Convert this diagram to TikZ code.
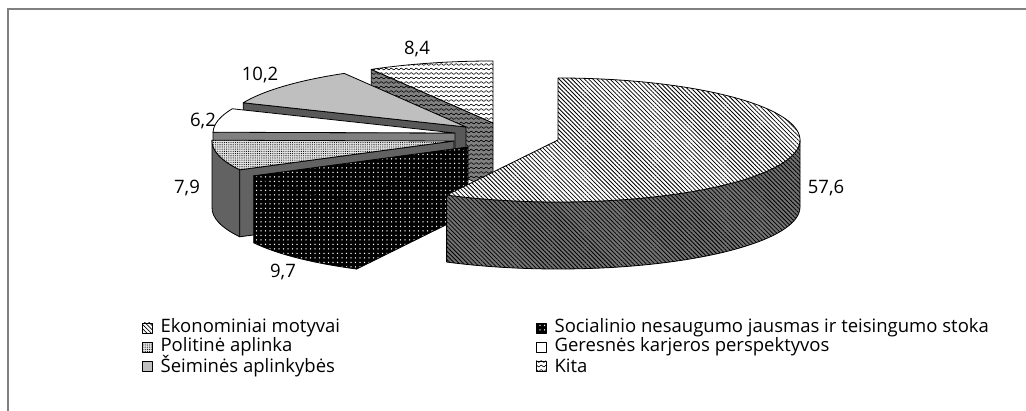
\documentclass[tikz,border=0pt]{standalone}
\usepackage{fontspec}
\setmainfont{Open Sans}
\usetikzlibrary{patterns.meta,positioning}

% wavy lines for the "Kita" slice
\tikzdeclarepattern{
  name=waves,
  type=uncolored,
  bounding box={(0pt,-1.6pt) and (5pt,1.6pt)},
  tile size={(5pt,4.5pt)},
  code={\draw[line width=0.6pt] (0pt,0pt) sin (1.25pt,1pt) cos (2.5pt,0pt) sin (3.75pt,-1pt) cos (5pt,0pt);}
}

\begin{document}
\begin{tikzpicture}[x=1pt,y=1pt,
  edge/.style={draw=black,line width=0.8pt,line join=round},
  pierad/.style={x radius=242pt,y radius=62pt},
  ekotop/.style={edge,preaction={fill=white},pattern={Lines[angle=-45,distance=3pt,line width=0.8pt]}},
  ekoside/.style={edge,preaction={fill=black!55},pattern={Lines[angle=-45,distance=3pt,line width=0.8pt]}},
  soctop/.style={edge,preaction={fill=black},pattern={Dots[distance=4.5pt,radius=0.75pt]},pattern color=white},
  poltop/.style={edge,preaction={fill=black!12},pattern={Dots[distance=2.2pt,radius=0.55pt]}},
  polside/.style={edge,preaction={fill=black!50},pattern={Dots[distance=2pt,radius=0.6pt]}},
  gertop/.style={edge,fill=white},
  gerside/.style={edge,fill=black!50},
  seitop/.style={edge,fill=black!25},
  seiside/.style={edge,fill=black!65},
  kittop/.style={edge,preaction={fill=white},pattern=waves},
  kitside/.style={edge,preaction={fill=black!50},pattern=waves},
  lbl/.style={font=\fontsize{18.5}{22}\selectfont},
  key/.style={minimum size=10pt,inner sep=0pt,line width=0.6pt},
  legtext/.style={font=\fontsize{18.5}{22}\selectfont,anchor=west,inner sep=0pt}]
\useasboundingbox (0,0) rectangle (1026,411);
% frame
\draw[black!50,line width=1.5pt] (8,0) -- (8,402) -- (1026,402);

% slice centres
\coordinate (kc) at (493,288);
\coordinate (sc) at (466,284);
\coordinate (gc) at (455,278);
\coordinate (pc) at (454,270);
\coordinate (oc) at (468,264);
\coordinate (ec) at (558,271);

% Kita 8,4
\draw[kitside] (kc) -- ++(120.2:242pt and 62pt) -- ++(0,-67) -- ([yshift=-67pt]kc) -- cycle;
\draw[kittop] (kc) -- ++(90:242pt and 62pt) arc[pierad,start angle=90,end angle=120.2] -- cycle;
% Seimines aplinkybes 10,2
\draw[seiside] (sc) -- ++(157:242pt and 62pt) -- ++(0,-67) -- ([yshift=-67pt]sc) -- cycle;
\draw[seitop] (sc) -- ++(120.2:242pt and 62pt) arc[pierad,start angle=120.2,end angle=157] -- cycle;
% Geresnes karjeros perspektyvos 6,2
\draw[gerside] (gc) -- ++(179.3:242pt and 62pt) -- ++(0,-67) -- ([yshift=-67pt]gc) -- cycle;
\draw[gertop] (gc) -- ++(157:242pt and 62pt) arc[pierad,start angle=157,end angle=179.3] -- cycle;
% Politine aplinka 7,9
\draw[polside] (pc) ++(179.3:242pt and 62pt) arc[pierad,start angle=179.3,end angle=207.7]
  -- ++(0,-67) arc[pierad,start angle=207.7,end angle=179.3] -- cycle;
\draw[polside] (pc) -- ++(207.7:242pt and 62pt) -- ++(0,-67) -- ([yshift=-67pt]pc) -- cycle;
\draw[poltop] (pc) -- ++(179.3:242pt and 62pt) arc[pierad,start angle=179.3,end angle=207.7] -- cycle;
% Socialinio nesaugumo jausmas 9,7
\draw[soctop] (oc) ++(207.7:242pt and 62pt) arc[pierad,start angle=207.7,end angle=242.6]
  -- ++(0,-67) arc[pierad,start angle=242.6,end angle=207.7] -- cycle;
\draw[soctop] (oc) -- ++(242.6:242pt and 62pt) -- ++(0,-67) -- ([yshift=-67pt]oc) -- cycle;
\draw[soctop] (oc) -- ++(207.7:242pt and 62pt) arc[pierad,start angle=207.7,end angle=242.6] -- cycle;
% Ekonominiai motyvai 57,6
\draw[ekoside] (ec) ++(242.6:242pt and 62pt) arc[pierad,start angle=242.6,end angle=360]
  -- ++(0,-67) arc[pierad,start angle=360,end angle=242.6] -- cycle;
\draw[ekotop] (ec) -- ++(242.6:242pt and 62pt) arc[pierad,start angle=242.6,end angle=450] -- cycle;

% values
\node[lbl] (v1) at (417,362) {8,4};
\node[lbl] (v2) at (260,336) {10,2};
\node[lbl] (v3) at (203,290) {6,2};
\node[lbl] (v4) at (187,223) {7,9};
\node[lbl] (v5) at (283,139) {9,7};
\node[lbl] (v6) at (826,223) {57,6};

% legend
\node[key,ekotop] (k1) at (147,83) {};
\node[key,poltop] (k2) at (147,64) {};
\node[key,seitop] (k3) at (147,45) {};
\node[key,soctop] (k4) at (541,83) {};
\node[key,gertop] (k5) at (541,64) {};
\node[key,kittop] (k6) at (541,45) {};
\node[legtext,right=8pt of k1] (t1) {Ekonominiai motyvai};
\node[legtext,right=8pt of k2] (t2) {Politinė aplinka};
\node[legtext,right=8pt of k3] (t3) {Šeiminės aplinkybės};
\node[legtext,right=8pt of k4] (t4) {Socialinio nesaugumo jausmas ir teisingumo stoka};
\node[legtext,right=8pt of k5] (t5) {Geresnės karjeros perspektyvos};
\node[legtext,right=8pt of k6] (t6) {Kita};
\end{tikzpicture}
\end{document}
